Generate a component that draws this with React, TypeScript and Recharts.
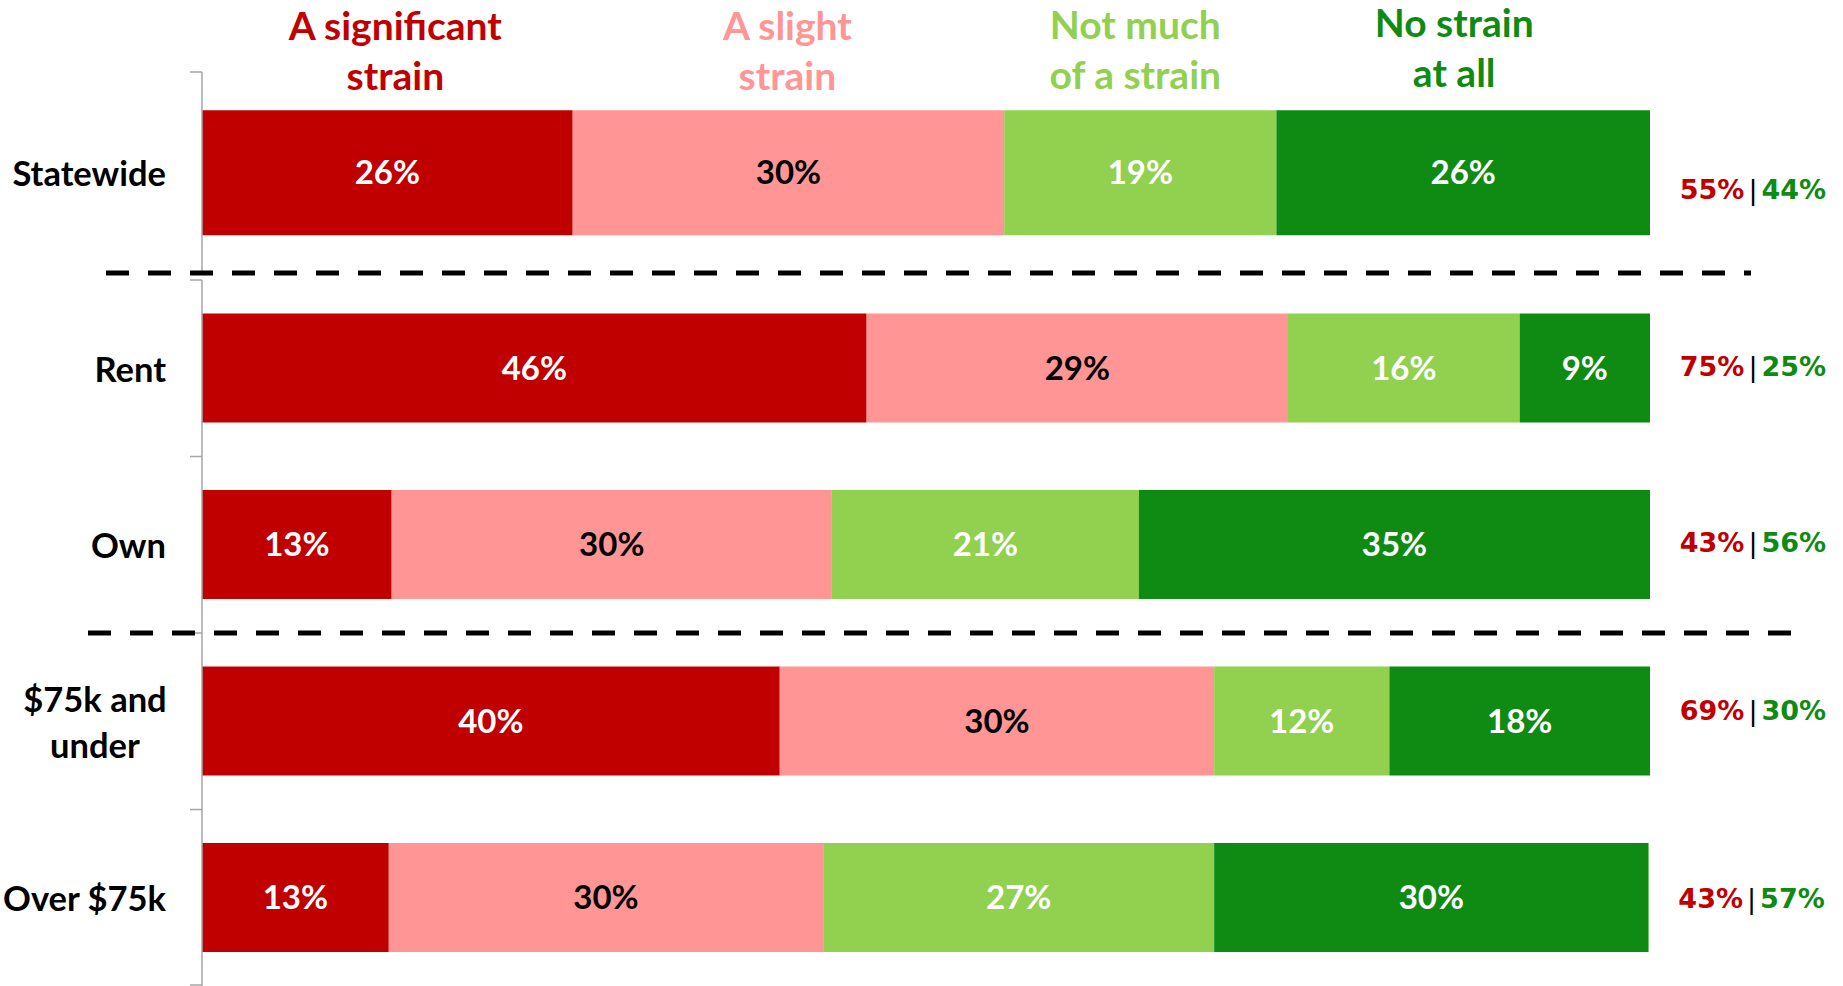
import React from "react";
import { Bar, BarChart, LabelList, XAxis, YAxis } from "recharts";

// Rows: Statewide on its own panel, then tenure + income groups below.
const topCategories = ["Statewide"];
const bottomCategories = ["Rent", "Own", "$75k and under", "Over $75k"];

// Share of each answer (labels are the rounded values).
const significant = [25.6, 45.9, 13.1, 39.9, 12.9];
const slight = [29.8, 29.1, 30.4, 30.0, 30.0];
const notMuch = [18.8, 16.0, 21.2, 12.1, 27.0];
const noStrain = [25.8, 9.0, 35.4, 18.0, 30.0];

// Net strain | net no strain, printed to the right of each bar.
const netStrain = ["55%", "75%", "43%", "69%", "43%"];
const netNoStrain = ["44%", "25%", "56%", "30%", "57%"];

const seriesNames = [
  "A significant strain",
  "A slight strain",
  "Not much of a strain",
  "No strain at all",
];
const headerLines = [
  ["A significant", "strain"],
  ["A slight", "strain"],
  ["Not much", "of a strain"],
  ["No strain", "at all"],
];

const RED = "#C00000";
const PINK = "#FF9595";
const LIGHT_GREEN = "#92D050";
const GREEN = "#0F8B13";
const AXIS_GRAY = "#A6A6A6";

// header boxes in the slide aren't exactly centred on the segments
const series = [
  { key: "significant", color: RED, text: "#fff", headerLift: 0, headerShift: 8 },
  { key: "slight", color: PINK, text: "#000", headerLift: 0, headerShift: -1 },
  { key: "notMuch", color: LIGHT_GREEN, text: "#fff", headerLift: 1, headerShift: -5 },
  { key: "noStrain", color: GREEN, text: "#fff", headerLift: 3, headerShift: -9 },
];

const W = 1843;
const AXIS_X = 202;
const RIGHT = 193;
const TOP_PLOT_Y = 72;
const TOP_H = 273;
const BOTTOM_Y = 280;
const BOTTOM_H = 706;
const LABEL_FONT = "Lato, 'Open Sans', sans-serif";

// small vertical nudges for the net labels, as placed in the original slide
const netNudge = [16, -2, -3, -11, 0];

const rows = [...topCategories, ...bottomCategories].map((name, i) => ({
  name,
  idx: i,
  significant: significant[i],
  slight: slight[i],
  notMuch: notMuch[i],
  noStrain: noStrain[i],
}));
const topRows = rows.slice(0, topCategories.length);
const bottomRows = rows.slice(topCategories.length);

const CategoryTick = (props: any) => {
  const { y, payload } = props;
  const text = String(payload.value);
  const common = {
    fontFamily: LABEL_FONT,
    fontWeight: 700,
    fontSize: 34.5,
    fill: "#000",
    dominantBaseline: "central" as const,
  };
  if (text.length > 10) {
    const cut = text.lastIndexOf(" ");
    return (
      <g>
        <text x={95} y={y - 23} textAnchor="middle" {...common}>
          {text.slice(0, cut)}
        </text>
        <text x={95} y={y + 23} textAnchor="middle" {...common}>
          {text.slice(cut + 1)}
        </text>
      </g>
    );
  }
  return (
    <text x={166} y={y} textAnchor="end" {...common}>
      {text}
    </text>
  );
};

const NetLabel = (props: any) => {
  const { x, y, width, height, value } = props;
  const i = Number(value);
  return (
    <text
      x={x + width + 103}
      y={y + height / 2 + netNudge[i]}
      textAnchor="middle"
      dominantBaseline="central"
      fontFamily="'DejaVu Sans', sans-serif"
      fontWeight="bold"
      fontSize={27}
    >
      <tspan fill={RED}>{netStrain[i]}</tspan>
      <tspan fill="#000" fontWeight="normal" dx={4}>
        |
      </tspan>
      <tspan fill={GREEN} dx={4}>
        {netNoStrain[i]}
      </tspan>
    </text>
  );
};

function renderBars(withHeaders: boolean) {
  return series.map((s, si) => (
    <Bar key={s.key} dataKey={s.key} name={seriesNames[si]} stackId="a" fill={s.color} isAnimationActive={false}>
      <LabelList
        dataKey={s.key}
        position="center"
        fill={s.text}
        fontFamily={LABEL_FONT}
        fontWeight={700}
        fontSize={33}
        formatter={(v: any) => `${Math.round(Number(v))}%`}
      />
      {withHeaders && (
        <LabelList
          dataKey={s.key}
          content={(p: any) => (
            <g>
              <text
                x={p.x + p.width / 2 + s.headerShift}
                y={p.y - 85 - s.headerLift}
                textAnchor="middle"
                dominantBaseline="central"
                fill={s.color}
                fontFamily={LABEL_FONT}
                fontWeight={700}
                fontSize={39}
              >
                {headerLines[si][0]}
              </text>
              <text
                x={p.x + p.width / 2 + s.headerShift}
                y={p.y - 35 - s.headerLift}
                textAnchor="middle"
                dominantBaseline="central"
                fill={s.color}
                fontFamily={LABEL_FONT}
                fontWeight={700}
                fontSize={39}
              >
                {headerLines[si][1]}
              </text>
            </g>
          )}
        />
      )}
      {s.key === "noStrain" && <LabelList dataKey="idx" content={NetLabel} />}
    </Bar>
  ));
}

function Panel({ data, top, height, marginTop, headers }: any) {
  return (
    <div style={{ position: "absolute", left: 0, top }}>
      <BarChart
        width={W}
        height={height}
        data={data}
        layout="vertical"
        barCategoryGap="19%"
        margin={{ top: marginTop, right: RIGHT, bottom: 0, left: 0 }}
      >
        <XAxis type="number" domain={[0, 100]} hide allowDataOverflow />
        <YAxis
          type="category"
          dataKey="name"
          width={AXIS_X}
          axisLine={{ stroke: AXIS_GRAY, strokeWidth: 1.5 }}
          tickLine={false}
          tick={<CategoryTick />}
        />
        {renderBars(headers)}
      </BarChart>
    </div>
  );
}

export default function App() {
  // Excel puts the axis ticks on the band edges, so draw them here
  const topEdges = [TOP_PLOT_Y, TOP_H];
  const bottomBand = BOTTOM_H / bottomCategories.length;
  const bottomEdges = bottomCategories.map((_, i) => BOTTOM_Y + i * bottomBand).concat(BOTTOM_Y + BOTTOM_H - 1);
  return (
    <div style={{ position: "absolute", left: 0, top: 0, width: W, height: 986, background: "#fff", overflow: "hidden" }}>
      <Panel data={topRows} top={0} height={TOP_H} marginTop={TOP_PLOT_Y} headers />
      <Panel data={bottomRows} top={BOTTOM_Y} height={BOTTOM_H} marginTop={0} headers={false} />
      <svg width={W} height={986} style={{ position: "absolute", left: 0, top: 0, pointerEvents: "none" }}>
        {[...topEdges, ...bottomEdges].map((y, i) => (
          <line key={i} x1={AXIS_X - 12} x2={AXIS_X} y1={y} y2={y} stroke={AXIS_GRAY} strokeWidth={1.5} />
        ))}
        <line x1={106} x2={1751} y1={273} y2={273} stroke="#000" strokeWidth={5} strokeDasharray="23 19" />
        <line
          x1={88}
          x2={1793}
          y1={BOTTOM_Y + 2 * bottomBand}
          y2={BOTTOM_Y + 2 * bottomBand}
          stroke="#000"
          strokeWidth={5}
          strokeDasharray="23 19"
        />
      </svg>
    </div>
  );
}
